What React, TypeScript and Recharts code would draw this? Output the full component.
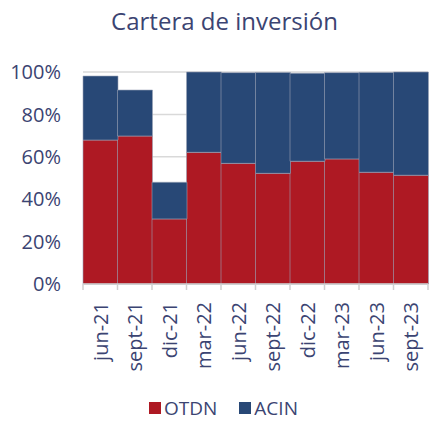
import { BarChart, Bar, XAxis, YAxis, CartesianGrid, Legend } from 'recharts';

const periods = ['jun-21', 'sept-21', 'dic-21', 'mar-22', 'jun-22', 'sept-22', 'dic-22', 'mar-23', 'jun-23', 'sept-23'];
const otdn = [67.9, 69.8, 30.7, 62.1, 56.9, 52.2, 57.9, 59.0, 52.7, 51.3];
const acin = [30.2, 21.7, 17.3, 37.9, 42.8, 47.6, 41.5, 40.7, 47.1, 48.7];
const yTicks = [0, 20, 40, 60, 80, 100];
const seriesNames = ['OTDN', 'ACIN'];

const RED = '#AE1923';
const NAVY = '#284876';
const TEXT = '#3B4472';
const FONT = '"Open Sans", "Noto Sans", sans-serif';

const W = 429;
const H = 421;
const Y_AXIS_W = 83;
const RIGHT = 1;
const STEP = (W - Y_AXIS_W - RIGHT) / periods.length;

const data = periods.map((p, i) => ({ period: p, OTDN: otdn[i], ACIN: acin[i] }));

// ticks sit on the category boundaries, labels at the centre
const PeriodTick = (props: any) => {
  const { x, y, payload, index } = props;
  return (
    <g>
      <line x1={x - STEP / 2} x2={x - STEP / 2} y1={y} y2={y + 6} stroke="#D0D0D0" strokeWidth={1.5} />
      {index === periods.length - 1 && (
        <line x1={x + STEP / 2} x2={x + STEP / 2} y1={y} y2={y + 6} stroke="#D0D0D0" strokeWidth={1.5} />
      )}
      <text
        x={x}
        y={y + 18}
        transform={`rotate(-90, ${x}, ${y + 18})`}
        textAnchor="end"
        dominantBaseline="central"
        fill={TEXT}
        fontSize={20}
        fontFamily={FONT}
      >
        {payload.value}
      </text>
    </g>
  );
};

const LegendContent = () => (
  <div
    style={{
      display: 'flex',
      alignItems: 'center',
      fontFamily: FONT,
      fontSize: 19,
      lineHeight: '26px',
      height: 26,
      color: TEXT,
      whiteSpace: 'nowrap',
    }}
  >
    {seriesNames.map((name, i) => (
      <div key={name} style={{ display: 'flex', alignItems: 'center', marginRight: i === 0 ? 22 : 0 }}>
        <span style={{ width: 12, height: 12, background: i === 0 ? RED : NAVY, marginRight: 3, display: 'inline-block' }} />
        <span>{name}</span>
      </div>
    ))}
  </div>
);

export default function App() {
  return (
    <div style={{ position: 'absolute', left: 0, top: 0, width: W, height: H, background: '#fff' }}>
      <div
        style={{
          position: 'absolute',
          top: 4,
          left: 0,
          width: 449,
          textAlign: 'center',
          fontFamily: FONT,
          fontSize: 24,
          color: TEXT,
        }}
      >
        Cartera de inversión
      </div>
      <BarChart
        width={W}
        height={H}
        data={data}
        margin={{ top: 72, right: RIGHT, left: 0, bottom: 16 }}
        barCategoryGap={0}
      >
        <CartesianGrid vertical={false} stroke="#D9D9D9" strokeWidth={1.5} />
        <XAxis
          dataKey="period"
          height={95}
          interval={0}
          tickSize={0}
          tickMargin={0}
          tickLine={false}
          axisLine={{ stroke: '#D0D0D0', strokeWidth: 1.5 }}
          tick={<PeriodTick />}
        />
        <YAxis
          width={Y_AXIS_W}
          domain={[0, 100]}
          ticks={yTicks}
          tickFormatter={(v: number) => `${v}%`}
          tickSize={0}
          tickMargin={22}
          axisLine={false}
          tick={{ fill: TEXT, fontSize: 20, fontFamily: FONT }}
        />
        <Legend content={<LegendContent />} wrapperStyle={{ left: 149, top: 395, width: 220, height: 26 }} />
        <Bar dataKey="OTDN" stackId="a" fill={RED} stroke="#9AA3B5" strokeWidth={0.6} isAnimationActive={false} />
        <Bar dataKey="ACIN" stackId="a" fill={NAVY} stroke="#9AA3B5" strokeWidth={0.6} isAnimationActive={false} />
      </BarChart>
    </div>
  );
}
